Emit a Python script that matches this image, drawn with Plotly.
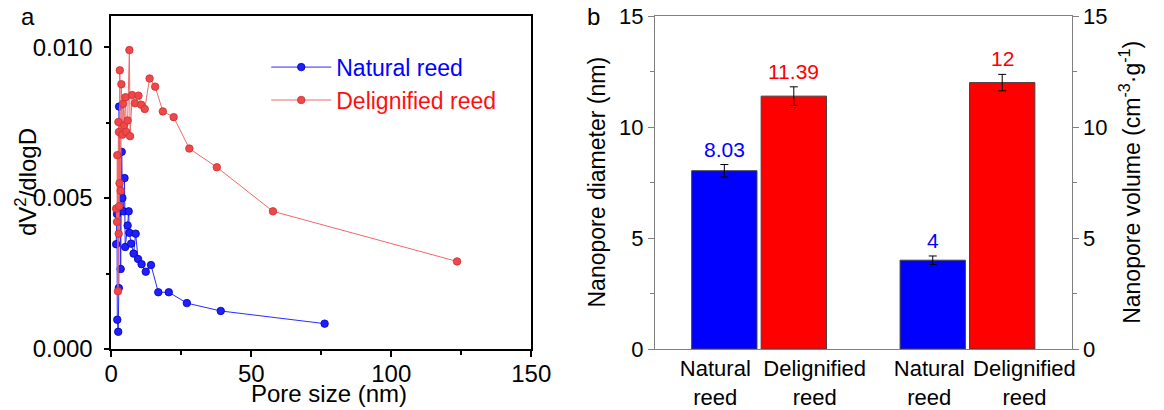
import plotly.graph_objects as go

# ---------------- data: panel a (pore size distribution) ----------------
natural_size = [1.74, 2.05, 2.15, 2.49, 2.70, 2.80, 3.36, 3.73, 3.98, 4.36, 4.73, 4.98,
                5.85, 6.22, 6.47, 7.09, 7.97, 8.71, 9.58, 10.83, 12.32, 14.19, 16.80,
                20.54, 27.0, 39.1, 76.2]
natural_dv = [0.00347, 0.00447, 0.00097, 0.00057, 0.00202, 0.00803, 0.00265, 0.00653,
              0.00500, 0.00456, 0.00566, 0.00338, 0.00409, 0.00456, 0.00385, 0.00349,
              0.00316, 0.00382, 0.00298, 0.00281, 0.00256, 0.00278, 0.00188, 0.00188,
              0.00152, 0.00126, 0.00084]

delig_size = [1.74, 2.05, 2.15, 2.40, 2.55, 2.65, 2.74, 2.82, 2.95, 3.05, 3.36, 3.61,
              3.98, 4.23, 4.61, 5.10, 5.35, 5.85, 6.47, 6.72, 7.47, 8.46, 9.71, 10.70,
              11.95, 13.69, 15.68, 18.42, 22.28, 27.88, 37.71, 57.75, 123.5]
delig_dv = [0.00465, 0.00421, 0.00642, 0.00191, 0.00752, 0.00382, 0.00719, 0.00473,
            0.00549, 0.00923, 0.00524, 0.00877, 0.00710, 0.00812, 0.00741, 0.00834,
            0.00719, 0.00757, 0.00990, 0.00705, 0.00841, 0.00814, 0.00839, 0.00809,
            0.00795, 0.00896, 0.00869, 0.00787, 0.00768, 0.00664, 0.00602, 0.00456,
            0.00290]

# ---------------- data: panel b (bars) ----------------
bar_labels = ["Natural<br>reed", "Delignified<br>reed", "Natural<br>reed", "Delignified<br>reed"]
bar_pos = [1, 2, 4, 5]
bar_values = [8.03, 11.39, 4, 12]
bar_errors = [0.28, 0.42, 0.19, 0.37]
bar_text = ["8.03", "11.39", "4", "12"]
bar_kind = ["natural", "delig", "natural", "delig"]

BLUE = "#0000FF"
RED = "#FF0000"
FONT = "Arial, 'Liberation Sans', sans-serif"

fig = go.Figure()

# panel a traces
fig.add_trace(go.Scatter(
    x=natural_size, y=natural_dv, mode="lines+markers",
    name="<span style='color:#0000FF'>Natural reed</span>",
    line=dict(color="#2a2aff", width=1),
    marker=dict(size=7.5, color="#2020ff", line=dict(color="#0000b0", width=0.8)),
    xaxis="x", yaxis="y"))
fig.add_trace(go.Scatter(
    x=delig_size, y=delig_dv, mode="lines+markers",
    name="<span style='color:#FF1010'>Delignified reed</span>",
    line=dict(color="#f06868", width=1),
    marker=dict(size=7.5, color="#f04848", line=dict(color="#c83030", width=0.8)),
    xaxis="x", yaxis="y"))

# panel b bars
colors = [BLUE if k == "natural" else RED for k in bar_kind]
fig.add_trace(go.Bar(
    x=bar_pos, y=bar_values, width=0.94,
    marker=dict(color=colors, line=dict(color="#404040", width=1)),
    error_y=dict(type="data", array=bar_errors, color="black", thickness=1, width=4),
    showlegend=False, xaxis="x2", yaxis="y2"))
# invisible helper for the right axis
fig.add_trace(go.Scatter(x=[bar_pos[0]], y=[0], mode="markers", marker=dict(opacity=0),
                         showlegend=False, hoverinfo="skip", xaxis="x2", yaxis="y3"))

# value labels above error bars
for p, v, e, t, k in zip(bar_pos, bar_values, bar_errors, bar_text, bar_kind):
    fig.add_annotation(x=p, y=v + e, xref="x2", yref="y2", text=t, showarrow=False,
                       xanchor="center", yanchor="bottom", yshift=2,
                       font=dict(size=21, color=BLUE if k == "natural" else RED, family=FONT))

label_offsets = [-0.13, 0.30, -0.05, 0.32]
tick_positions = [p + o for p, o in zip(bar_pos, label_offsets)]

axis_a = dict(showline=True, linecolor="black", linewidth=1.5, mirror=True,
              ticks="outside", ticklen=6, tickwidth=1.5, tickcolor="black",
              showgrid=False, zeroline=False,
              tickfont=dict(size=24, color="black", family=FONT))
axis_b = dict(showline=True, linecolor="#808080", linewidth=1,
              ticks="outside", ticklen=6, tickwidth=1, tickcolor="#808080",
              showgrid=False, zeroline=False,
              tickfont=dict(size=22, color="black", family=FONT))

fig.update_layout(
    width=1164, height=410,
    margin=dict(l=0, r=0, t=16, b=58),
    paper_bgcolor="white", plot_bgcolor="white",
    font=dict(family=FONT, color="black"),
    xaxis=dict(domain=[0.0917, 0.4611], range=[0, 150], tickvals=[0, 50, 100, 150],
               ticklabelstandoff=-4,
               minor=dict(tickvals=[25, 75, 125], ticks="outside", ticklen=4,
                          tickwidth=1.5, tickcolor="black"),
               anchor="y", **axis_a),
    yaxis=dict(domain=[0, 1], range=[0, 0.01103], tickvals=[0, 0.005, 0.010],
               tickformat=".3f", ticklabelstandoff=6,
               minor=dict(tickvals=[0.0025, 0.0075], ticks="outside", ticklen=4,
                          tickwidth=1.5, tickcolor="black"),
               anchor="x", **axis_a),
    xaxis2=dict(domain=[0.5698, 0.9364], range=[0, 6], anchor="y2",
                showline=True, linecolor="#808080", linewidth=1, mirror=True,
                ticks="", showgrid=False, zeroline=False,
                tickvals=tick_positions, ticktext=bar_labels,
                tickfont=dict(size=22, color="black", family=FONT)),
    yaxis2=dict(domain=[0, 1], range=[0, 15], tickvals=[0, 5, 10, 15], anchor="x2",
                minor=dict(tickvals=[2.5, 7.5, 12.5], ticks="outside", ticklen=4,
                           tickcolor="#808080"),
                **axis_b),
    yaxis3=dict(range=[0, 15], tickvals=[0, 5, 10, 15], overlaying="y2", side="right",
                anchor="x2",
                minor=dict(tickvals=[2.5, 7.5, 12.5], ticks="outside", ticklen=4,
                           tickcolor="#808080"),
                **axis_b),
    legend=dict(x=0.228, y=0.911, xanchor="left", yanchor="top",
                bgcolor="rgba(0,0,0,0)", font=dict(size=23, family=FONT),
                itemwidth=60, tracegroupgap=0),
)

# axis titles and panel labels
fig.add_annotation(text="Pore size (nm)", x=0.2835, y=-0.086, xref="paper", yref="paper",
                   xanchor="center", yanchor="top", showarrow=False,
                   font=dict(size=24, family=FONT))
fig.add_annotation(text="dV<sup>2</sup>/dlogD", x=19 / 1164, y=0.5, xref="paper", yref="paper",
                   textangle=-90, showarrow=False, xanchor="center", yanchor="middle",
                   font=dict(size=24, family=FONT))
fig.add_annotation(text="Nanopore diameter (nm)", x=603 / 1164, y=0.5, xref="paper",
                   yref="paper", textangle=-90, showarrow=False, xanchor="center",
                   yanchor="middle", font=dict(size=23, family=FONT))
fig.add_annotation(text="Nanopore volume (cm<sup>-3</sup>·g<sup>-1</sup>)", x=1149 / 1164,
                   y=0.5, xref="paper", yref="paper", textangle=-90, showarrow=False,
                   xanchor="center", yanchor="middle", font=dict(size=23, family=FONT))
fig.add_annotation(text="a", x=22 / 1164, y=1.0, xref="paper", yref="paper",
                   showarrow=False, xanchor="center", yanchor="middle",
                   font=dict(size=24, family=FONT))
fig.add_annotation(text="b", x=600 / 1164, y=1.0, xref="paper", yref="paper",
                   showarrow=False, xanchor="center", yanchor="middle",
                   font=dict(size=24, family=FONT))

fig.write_html(
    "out.html",
    config={"displayModeBar": False},
    post_script=("document.documentElement.style.overflow='hidden';"
                 "document.body.style.overflow='hidden';"
                 "document.body.style.margin='0';document.body.style.padding='0';"))
